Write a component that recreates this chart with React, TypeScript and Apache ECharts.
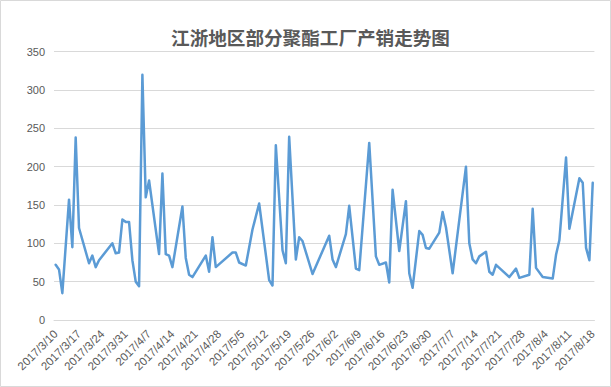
import React, { useEffect, useRef } from "react";
import * as echarts from "echarts";

const chartTitle = "江浙地区部分聚酯工厂产销走势图";

const firstDay = [2017, 3, 10];
const lastDay = [2017, 8, 18];

const tickLabels = [
  "2017/3/10", "2017/3/17", "2017/3/24", "2017/3/31", "2017/4/7", "2017/4/14",
  "2017/4/21", "2017/4/28", "2017/5/5", "2017/5/12", "2017/5/19", "2017/5/26",
  "2017/6/2", "2017/6/9", "2017/6/16", "2017/6/23", "2017/6/30", "2017/7/7",
  "2017/7/14", "2017/7/21", "2017/7/28", "2017/8/4", "2017/8/11", "2017/8/18",
];

const pointDates = [
  "2017/3/10", "2017/3/11", "2017/3/12", "2017/3/14", "2017/3/15", "2017/3/16", "2017/3/17",
  "2017/3/20", "2017/3/21", "2017/3/22", "2017/3/23", "2017/3/27", "2017/3/28", "2017/3/29",
  "2017/3/30", "2017/3/31", "2017/4/1", "2017/4/2", "2017/4/3", "2017/4/4", "2017/4/5",
  "2017/4/6", "2017/4/7", "2017/4/10", "2017/4/11", "2017/4/12", "2017/4/13", "2017/4/14",
  "2017/4/17", "2017/4/18", "2017/4/19", "2017/4/20", "2017/4/24", "2017/4/25", "2017/4/26",
  "2017/4/27", "2017/5/2", "2017/5/3", "2017/5/4", "2017/5/6", "2017/5/8", "2017/5/10",
  "2017/5/13", "2017/5/14", "2017/5/15", "2017/5/17", "2017/5/18", "2017/5/19", "2017/5/21",
  "2017/5/22", "2017/5/23", "2017/5/26", "2017/5/31", "2017/6/1", "2017/6/2", "2017/6/5",
  "2017/6/6", "2017/6/8", "2017/6/9", "2017/6/12", "2017/6/14", "2017/6/15", "2017/6/17",
  "2017/6/18", "2017/6/19", "2017/6/21", "2017/6/23", "2017/6/24", "2017/6/25", "2017/6/27",
  "2017/6/28", "2017/6/29", "2017/6/30", "2017/7/3", "2017/7/4", "2017/7/5", "2017/7/7",
  "2017/7/11", "2017/7/12", "2017/7/13", "2017/7/14", "2017/7/15", "2017/7/17", "2017/7/18",
  "2017/7/19", "2017/7/20", "2017/7/24", "2017/7/26", "2017/7/27", "2017/7/30", "2017/7/31",
  "2017/8/1", "2017/8/3", "2017/8/6", "2017/8/7", "2017/8/8", "2017/8/10", "2017/8/11",
  "2017/8/14", "2017/8/15", "2017/8/16", "2017/8/17", "2017/8/18",
];

const salesValues = [
  72, 66, 35, 157, 95, 238, 120,
  74, 84, 69, 78, 100, 87, 88,
  131, 128, 128, 78, 50, 44, 320,
  160, 182, 86, 191, 86, 84, 69,
  148, 81, 59, 56, 84, 63, 108,
  69, 88, 88, 75, 71, 118, 152,
  52, 45, 228, 91, 74, 239, 79,
  108, 103, 60, 110, 79, 69, 112,
  149, 67, 65, 231, 83, 72, 75,
  49, 170, 90, 155, 61, 42, 116,
  111, 94, 93, 114, 141, 121, 61,
  200, 100, 79, 74, 83, 89, 63,
  59, 72, 56, 67, 55, 59, 145,
  68, 56, 54, 85, 104, 212, 119,
  185, 179, 94, 78, 179,
];

const yTicks = [0, 50, 100, 150, 200, 250, 300, 350];

function buildDays(): string[] {
  const out: string[] = [];
  const d = new Date(firstDay[0], firstDay[1] - 1, firstDay[2]);
  const end = new Date(lastDay[0], lastDay[1] - 1, lastDay[2]);
  while (d.getTime() <= end.getTime()) {
    out.push(`${d.getFullYear()}/${d.getMonth() + 1}/${d.getDate()}`);
    d.setDate(d.getDate() + 1);
  }
  return out;
}

const FONT = "'Liberation Sans', 'Noto Sans', sans-serif";

export default function App() {
  const ref = useRef<HTMLDivElement>(null);

  useEffect(() => {
    document.body.style.margin = "0";
    if (!ref.current) return;
    const chart = echarts.init(ref.current, null, { renderer: "svg" });
    const days = buildDays();
    const valueMap = new Map<string, number>();
    pointDates.forEach((d, i) => valueMap.set(d, salesValues[i]));
    const seriesData = days.map((d) => (valueMap.has(d) ? valueMap.get(d)! : null));
    const tickSet = new Set(tickLabels);

    chart.setOption({
      animation: false,
      backgroundColor: "#ffffff",
      graphic: [
        {
          type: "rect",
          shape: { x: 0.5, y: 0.5, width: 610, height: 386 },
          style: { fill: "none", stroke: "#d9d9d9", lineWidth: 1 },
          silent: true,
        },
        {
          type: "text",
          x: 310.5,
          y: 36,
          style: {
            text: chartTitle,
            fill: "#595959",
            font: "bold 18.6px 'Noto Sans CJK SC', sans-serif",
            textAlign: "center",
            textVerticalAlign: "middle",
          },
        },
      ],
      grid: {
        left: 54,
        right: 16.6,
        top: 51.7,
        bottom: 67,
        containLabel: false,
        outerBoundsMode: "none",
      },
      xAxis: {
        type: "category",
        data: days,
        boundaryGap: true,
        axisLine: { show: true, lineStyle: { color: "#d9d9d9", width: 1 } },
        axisTick: { show: false },
        splitLine: { show: false },
        axisLabel: {
          interval: (_i: number, v: string) => tickSet.has(v),
          rotate: 45,
          color: "#595959",
          fontSize: 11.5,
          fontFamily: FONT,
          margin: 12,
        },
      },
      yAxis: {
        type: "value",
        min: yTicks[0],
        max: yTicks[yTicks.length - 1],
        interval: 50,
        axisLine: { show: false },
        axisTick: { show: false },
        splitLine: { lineStyle: { color: "#d9d9d9", width: 1 } },
        axisLabel: {
          color: "#595959",
          fontSize: 11,
          fontFamily: FONT,
          margin: 9,
        },
      },
      series: [
        {
          type: "line",
          data: seriesData,
          connectNulls: true,
          showSymbol: false,
          symbol: "none",
          lineStyle: { color: "#5b9bd5", width: 2.5, join: "round", cap: "round" },
          itemStyle: { color: "#5b9bd5" },
        },
      ],
    });
    return () => chart.dispose();
  }, []);

  return <div ref={ref} style={{ width: 611, height: 387 }} />;
}
